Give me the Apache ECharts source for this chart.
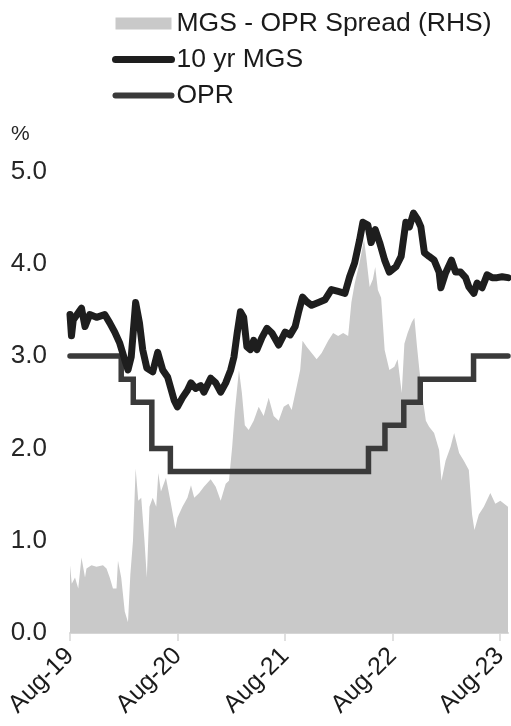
<!DOCTYPE html>
<html>
<head>
<meta charset="utf-8">
<title>10 yr MGS vs OPR</title>
<script src="https://cdn.jsdelivr.net/npm/echarts@6/dist/echarts.min.js"></script>
<style>
  html, body { margin: 0; padding: 0; background: #ffffff; }
  #chart { width: 511px; height: 726px; }
</style>
</head>
<body>
<div id="chart"></div>
<script>
// 10-year Malaysian Government Securities yield (%)
const mgsDates = [
  '2019-08-01','2019-08-06','2019-08-12','2019-08-25','2019-09-09','2019-09-21','2019-10-07','2019-10-30',
  '2019-11-27','2019-12-14','2019-12-31','2020-01-17','2020-02-03','2020-02-14','2020-02-25','2020-03-11',
  '2020-03-24','2020-04-04','2020-04-18','2020-05-08','2020-05-25','2020-06-11','2020-06-28','2020-07-20',
  '2020-07-31','2020-08-17','2020-09-03','2020-09-15','2020-10-01','2020-10-18','2020-10-29','2020-11-21',
  '2020-12-08','2020-12-25','2021-01-11','2021-01-28','2021-02-08','2021-02-19','2021-03-02','2021-03-13',
  '2021-03-24','2021-04-05','2021-04-16','2021-04-27','2021-05-14','2021-05-31','2021-06-17','2021-07-10',
  '2021-08-01','2021-08-18','2021-09-04','2021-09-15','2021-09-29','2021-10-13','2021-10-30','2021-11-22',
  '2021-12-14','2022-01-05','2022-01-28','2022-02-20','2022-03-08','2022-03-25','2022-04-11','2022-04-22',
  '2022-05-09','2022-05-20','2022-06-03','2022-06-18','2022-07-05','2022-07-21','2022-08-13','2022-08-30',
  '2022-09-15','2022-09-27','2022-10-11','2022-10-25','2022-11-05','2022-11-17','2022-12-03','2022-12-20',
  '2023-01-06','2023-01-12','2023-01-28','2023-02-17','2023-03-03','2023-03-20','2023-04-06','2023-04-17',
  '2023-05-04','2023-05-15','2023-06-01','2023-06-18','2023-07-05','2023-07-22','2023-08-08','2023-08-28'
];
const mgsValues = [
  3.45, 3.22, 3.39, 3.45, 3.52, 3.32, 3.45, 3.42,
  3.45, 3.36, 3.26, 3.14, 2.96, 2.85, 2.99, 3.58,
  3.36, 3.07, 2.87, 2.83, 3.04, 2.85, 2.77, 2.52,
  2.45, 2.55, 2.63, 2.71, 2.65, 2.68, 2.61, 2.76,
  2.71, 2.61, 2.71, 2.85, 2.99, 3.25, 3.48, 3.42,
  3.10, 3.07, 3.17, 3.07, 3.20, 3.30, 3.25, 3.12,
  3.26, 3.23, 3.32, 3.47, 3.64, 3.59, 3.55, 3.58,
  3.61, 3.72, 3.70, 3.68, 3.86, 4.01, 4.26, 4.45,
  4.42, 4.23, 4.37, 4.23, 4.04, 3.91, 3.97, 4.08,
  4.45, 4.40, 4.55, 4.48, 4.40, 4.12, 4.08, 4.04,
  3.91, 3.74, 3.90, 4.04, 3.91, 3.91, 3.85, 3.75,
  3.68, 3.79, 3.74, 3.88, 3.85, 3.85, 3.86, 3.85
];

// Overnight Policy Rate (%), value holds from each date to the next
const oprDates  = ['2019-08-01','2020-01-22','2020-03-03','2020-05-05','2020-07-07',
                   '2022-05-11','2022-07-06','2022-09-08','2022-11-03','2023-05-03','2023-08-28'];
const oprValues = [3.00, 2.75, 2.50, 2.00, 1.75, 2.00, 2.25, 2.50, 2.75, 3.00, 3.00];

// MGS - OPR spread, right-hand scale (percentage points)
const spreadDates = [
  '2019-08-01','2019-08-07','2019-08-18','2019-08-29','2019-09-09','2019-09-21','2019-09-26','2019-10-13',
  '2019-10-30','2019-11-21','2019-12-03','2019-12-14','2019-12-25','2020-01-06','2020-01-11','2020-01-22',
  '2020-02-03','2020-02-14','2020-02-22','2020-03-02','2020-03-11','2020-03-20','2020-03-30','2020-04-10',
  '2020-04-18','2020-04-27','2020-05-08','2020-05-20','2020-05-27','2020-06-05','2020-06-22','2020-07-09',
  '2020-07-24','2020-07-31','2020-08-17','2020-09-03','2020-09-15','2020-09-26','2020-10-13','2020-10-29',
  '2020-11-21','2020-12-08','2020-12-25','2021-01-11','2021-01-22','2021-02-02','2021-02-11','2021-02-25',
  '2021-03-07','2021-03-17','2021-03-30','2021-04-16','2021-05-03','2021-05-20','2021-06-06','2021-06-23',
  '2021-07-10','2021-07-27','2021-08-12','2021-08-23','2021-09-09','2021-09-21','2021-09-29','2021-10-13',
  '2021-10-30','2021-11-16','2021-12-03','2021-12-25','2022-01-11','2022-01-28','2022-02-14','2022-03-03',
  '2022-03-14','2022-03-25','2022-04-11','2022-04-26','2022-05-03','2022-05-15','2022-05-26','2022-06-03',
  '2022-06-12','2022-06-23','2022-07-05','2022-07-21','2022-08-07','2022-08-18','2022-09-01','2022-09-10',
  '2022-09-21','2022-10-05','2022-10-14','2022-10-23','2022-10-31','2022-11-11','2022-11-22','2022-12-03',
  '2022-12-20','2023-01-06','2023-01-14','2023-01-28','2023-02-14','2023-02-26','2023-03-15','2023-03-31',
  '2023-04-17','2023-04-28','2023-05-06','2023-05-21','2023-06-07','2023-06-29','2023-07-16','2023-08-02',
  '2023-08-28'
];
const spreadValues = [
  0.44, 0.32, 0.36, 0.29, 0.49, 0.36, 0.42, 0.44,
  0.43, 0.44, 0.42, 0.36, 0.29, 0.29, 0.47, 0.36,
  0.14, 0.07, 0.38, 0.60, 1.07, 0.86, 0.88, 0.60,
  0.36, 0.82, 0.88, 0.82, 1.04, 0.92, 1.01, 0.84,
  0.68, 0.75, 0.82, 0.88, 0.96, 0.88, 0.91, 0.95,
  1.00, 0.95, 0.86, 0.97, 0.99, 1.21, 1.44, 1.71,
  1.56, 1.35, 1.32, 1.38, 1.47, 1.41, 1.53, 1.41,
  1.38, 1.47, 1.49, 1.45, 1.60, 1.71, 1.90, 1.86,
  1.82, 1.78, 1.82, 1.90, 1.95, 1.93, 1.95, 1.93,
  2.15, 2.27, 2.41, 2.56, 2.45, 2.25, 2.30, 2.38,
  2.23, 2.18, 1.84, 1.71, 1.73, 1.78, 1.56, 1.88,
  1.95, 2.02, 2.05, 1.86, 1.71, 1.53, 1.38, 1.34,
  1.30, 1.19, 0.99, 1.12, 1.21, 1.30, 1.17, 1.12,
  1.06, 0.77, 0.67, 0.77, 0.82, 0.91, 0.84, 0.86,
  0.82
];

// Year ticks on the date axis
const tickDates  = ['2019-08-01','2020-08-01','2021-08-01','2022-08-01','2023-08-01'];
const tickLabels = ['Aug-19','Aug-20','Aug-21','Aug-22','Aug-23'];

// Dates are placed on a linear axis measured in days
const DAY = 86400000;
const toDay = s => {
  const [y, m, d] = s.split('-').map(Number);
  return Date.UTC(y, m - 1, d) / DAY;
};
const pairs = (dates, values) => dates.map((d, i) => [toDay(d), values[i]]);
const tickDays = tickDates.map(toDay);
const labelFor = v => {
  const i = tickDays.findIndex(t => Math.abs(t - v) < 0.5);
  return i >= 0 ? tickLabels[i] : '';
};

const FONT = 'Liberation Sans, Arial, sans-serif';
const chart = echarts.init(document.getElementById('chart'), null, { renderer: 'canvas' });

chart.setOption({
  backgroundColor: '#ffffff',
  animation: false,
  title: {
    text: '%',
    left: 11,
    top: 124,
    padding: 0,
    textStyle: { fontFamily: FONT, fontSize: 21, fontWeight: 'normal', color: '#262626' }
  },
  legend: {
    orient: 'vertical',
    left: 112,
    top: 10,
    padding: 0,
    itemWidth: 56,
    itemHeight: 12,
    itemGap: 9,
    textStyle: { fontFamily: FONT, fontSize: 26.5, color: '#1a1a1a', lineHeight: 25 },
    data: [
      { name: 'MGS - OPR Spread (RHS)', icon: 'rect' },
      { name: '10 yr MGS', itemStyle: { opacity: 0 }, lineStyle: { width: 7, cap: 'round' } },
      { name: 'OPR', itemStyle: { opacity: 0 }, lineStyle: { width: 6, cap: 'round' } }
    ]
  },
  grid: { left: 70, right: 0, top: 171.5, bottom: 93, containLabel: false },
  xAxis: {
    type: 'value',
    min: toDay('2019-08-01'),
    max: toDay('2023-08-28'),
    splitLine: { show: false },
    axisLine: { show: true, lineStyle: { color: '#d6d6d6', width: 2 } },
    axisTick: {
      show: true,
      customValues: tickDays,
      length: 8,
      lineStyle: { color: '#d6d6d6', width: 1.5 }
    },
    axisLabel: {
      customValues: tickDays,
      rotate: 45,
      margin: 19,
      fontFamily: FONT,
      fontSize: 25,
      color: '#1a1a1a',
      formatter: v => labelFor(v)
    }
  },
  yAxis: [
    {
      type: 'value',
      min: 0,
      max: 5,
      interval: 1,
      axisLine: { show: false },
      axisTick: { show: false },
      splitLine: { show: false },
      axisLabel: {
        margin: 23,
        fontFamily: FONT,
        fontSize: 26,
        color: '#262626',
        formatter: v => v.toFixed(1)
      }
    },
    {
      type: 'value',
      min: 0,
      max: 3,
      show: false,
      splitLine: { show: false }
    }
  ],
  series: [
    {
      name: 'MGS - OPR Spread (RHS)',
      type: 'line',
      yAxisIndex: 1,
      data: pairs(spreadDates, spreadValues),
      symbol: 'none',
      color: '#c9c9c9',
      lineStyle: { width: 0 },
      areaStyle: { color: '#c9c9c9', opacity: 1 },
      z: 1
    },
    {
      name: '10 yr MGS',
      type: 'line',
      data: pairs(mgsDates, mgsValues),
      symbol: 'none',
      color: '#1e1e1e',
      lineStyle: { width: 7, color: '#1e1e1e', cap: 'round', join: 'round' },
      z: 3
    },
    {
      name: 'OPR',
      type: 'line',
      step: 'end',
      data: pairs(oprDates, oprValues),
      symbol: 'none',
      color: '#3a3a3a',
      lineStyle: { width: 5.5, color: '#3a3a3a', cap: 'round', join: 'miter' },
      z: 2
    }
  ]
});
</script>
</body>
</html>
